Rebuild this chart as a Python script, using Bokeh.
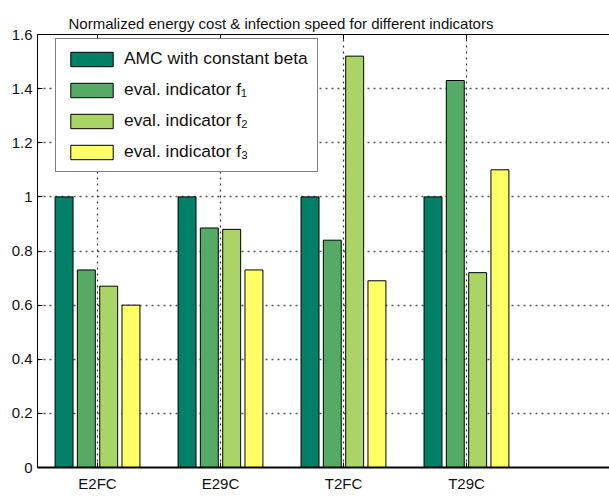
from bokeh.plotting import figure
from bokeh.models import (Range1d, FixedTicker, LinearAxis, Legend, LegendItem,
                          ColumnDataSource)
from bokeh.transform import dodge
from bokeh.embed import file_html
from bokeh.resources import INLINE

categories = ["E2FC", "E29C", "T2FC", "T29C"]
amc = [1.0, 1.0, 1.0, 1.0]
f1 = [0.73, 0.885, 0.84, 1.43]
f2 = [0.67, 0.88, 1.52, 0.72]
f3 = [0.60, 0.73, 0.69, 1.10]
series_labels = ["AMC with constant beta", "eval. indicator f\u2081",
                 "eval. indicator f\u2082", "eval. indicator f\u2083"]
colors = ["#008066", "#55AA66", "#AAD466", "#FFFF66"]
y_ticks = [0, 0.2, 0.4, 0.6, 0.8, 1.0, 1.2, 1.4, 1.6]
y_tick_labels = ["0", "0.2", "0.4", "0.6", "0.8", "1", "1.2", "1.4", "1.6"]
title_text = "Normalized energy cost & infection speed for different indicators"

FONT = "Liberation Sans"
xs = [i + 1 for i in range(len(categories))]
src = ColumnDataSource(dict(x=xs, amc=amc, f1=f1, f2=f2, f3=f3))

p = figure(width=609, height=497, x_range=Range1d(0.512, 5.163), y_range=Range1d(0, 1.6),
           output_backend="svg", toolbar_location=None, title=title_text,
           min_border_left=37, min_border_right=0, min_border_top=34, min_border_bottom=30)
p.outline_line_color = None
p.title.align = "left"
p.title.offset = 31
p.title.text_font = FONT
p.title.text_font_size = "15px"
p.title.text_font_style = "normal"
p.title.text_color = "#111111"
p.title.standoff = 6

xt = FixedTicker(ticks=xs)
yt = FixedTicker(ticks=y_ticks)

xax = p.xaxis[0]
xax.ticker = xt
xax.major_label_overrides = {x: c for x, c in zip(xs, categories)}
xax.major_tick_in = 5
xax.major_tick_out = 0
xax.minor_tick_line_color = None
xax.axis_line_width = 2
xax.major_label_text_font = FONT
xax.major_label_text_font_size = "15px"
xax.major_label_standoff = 7
xax.major_label_text_color = "#111111"

yax = p.yaxis[0]
yax.ticker = yt
yax.major_label_overrides = {v: s for v, s in zip(y_ticks, y_tick_labels)}
yax.major_tick_in = 5
yax.major_tick_out = 0
yax.minor_tick_line_color = None
yax.major_label_text_font = FONT
yax.major_label_text_font_size = "15px"
yax.major_label_standoff = 5
yax.major_label_text_color = "#111111"

tax = LinearAxis(ticker=xt, major_label_overrides={x: "" for x in xs})
tax.major_tick_in = 5
tax.major_tick_out = 0
tax.minor_tick_line_color = None
tax.major_label_standoff = 0
p.add_layout(tax, "above")

xg = p.xgrid[0]
xg.ticker = xt
xg.grid_line_color = "#333333"
xg.grid_line_dash = "dotted"
xg.grid_line_width = 1.2
xg.level = "image"

yg = p.ygrid[0]
yg.ticker = yt
yg.grid_line_color = "#555555"
yg.grid_line_dash = "2 4"
yg.grid_line_width = 1.5
yg.level = "underlay"

offsets = [-0.272, -0.091, 0.091, 0.272]
fields = ["amc", "f1", "f2", "f3"]
items = []
for f, off, c, lab in zip(fields, offsets, colors, series_labels):
    r = p.vbar(x=dodge("x", off, range=p.x_range), top=f, bottom=0, width=0.146,
               source=src, fill_color=c, line_color="black", line_width=1)
    items.append(LegendItem(label=lab, renderers=[r]))

leg = Legend(items=items, location=(18, 295), margin=0,
             label_text_font=FONT, label_text_font_size="17.4px", label_text_color="#111111",
             glyph_width=53, glyph_height=18, label_standoff=6, label_height=18,
             spacing=10, padding=9, border_line_color="black", border_line_width=1,
             background_fill_alpha=1)
p.add_layout(leg)

open("out.html", "w").write(file_html(p, INLINE))
